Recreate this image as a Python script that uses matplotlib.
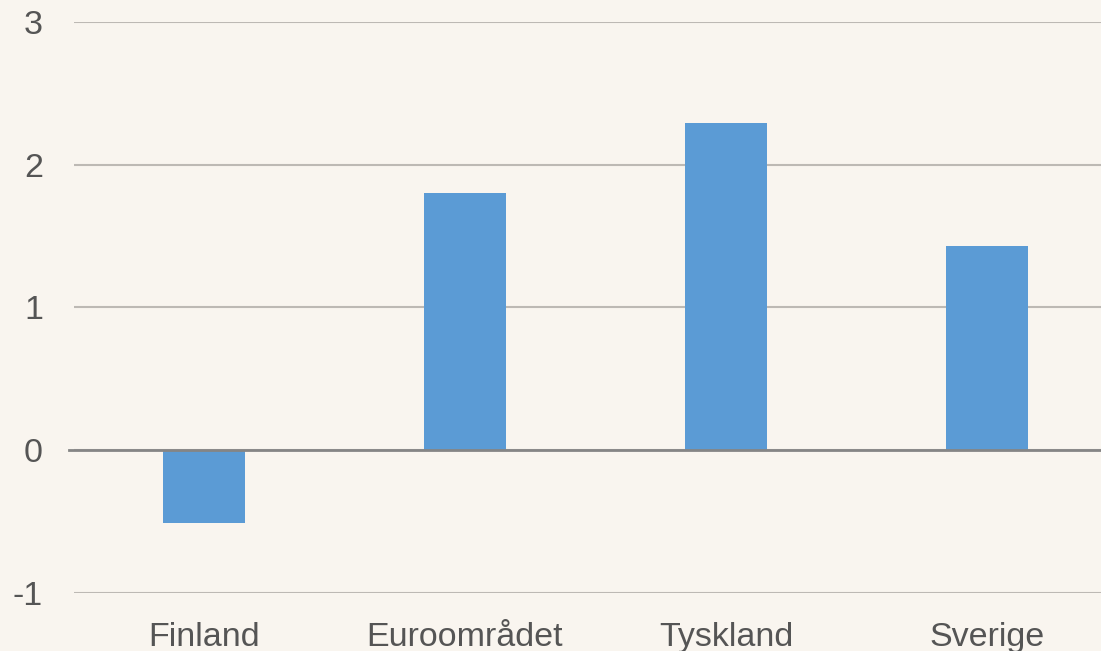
import numpy as np
import matplotlib.pyplot as plt

countries = ["Finland", "Euroområdet", "Tyskland", "Sverige"]
values = [-0.51, 1.80, 2.29, 1.43]
yticks = [-1, 0, 1, 2, 3]

bg = "#F9F5EF"
plt.rcParams['font.family'] = ['Liberation Sans', 'DejaVu Sans']

fig = plt.figure(figsize=(11.01, 6.51), dpi=100, facecolor=bg)
ax = fig.add_axes([0.0668, 0.0891, 0.948, 0.8771])
ax.set_facecolor(bg)

x = np.arange(len(countries))
ax.bar(x, values, width=0.314, color="#5B9BD5", zorder=3)

ax.set_xlim(-0.5, len(countries) - 0.5)
ax.set_ylim(-1, 3)
ax.set_yticks(yticks)
ax.set_yticklabels([str(v) for v in yticks])
ax.set_xticks(x)
ax.set_xticklabels(countries)

# gridlines and darker zero line
ax.grid(axis='y', color="#BDB9B4", linewidth=1.5, zorder=0)
ax.axhline(0, color="#858585", linewidth=2.0, zorder=4, xmin=-0.004, clip_on=False)

for s in ax.spines.values():
    s.set_visible(False)
ax.tick_params(axis='both', length=0, labelsize=24.5, colors="#555555")
ax.tick_params(axis='y', pad=22)
ax.tick_params(axis='x', pad=21)

fig.savefig("out.png", dpi=100, facecolor=bg)
